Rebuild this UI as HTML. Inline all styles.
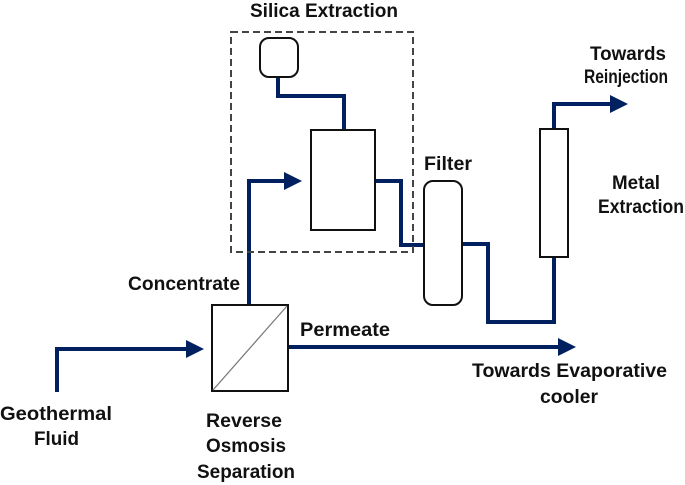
<!DOCTYPE html>
<html><head><meta charset="utf-8"><style>
html,body{margin:0;padding:0;background:#fff;}
svg{display:block;}
text{font-family:"Liberation Sans",sans-serif;font-weight:bold;font-size:19px;fill:#111;}
</style></head><body>
<svg width="685" height="485" viewBox="0 0 685 485" xmlns="http://www.w3.org/2000/svg">
<defs>
<marker id="a" markerWidth="4.5" markerHeight="4.5" refX="3.5" refY="2.25" orient="auto" markerUnits="strokeWidth">
<path d="M0,0 L4.5,2.25 L0,4.5 z" fill="#002060"/>
</marker>
</defs>
<g fill="none" stroke="#002060" stroke-width="4">
<polyline points="278,77 278,96 344,96 344,130"/>
<polyline points="249,305 249,181 298,181" marker-end="url(#a)"/>
<polyline points="375,181 401,181 401,245 424,245"/>
<polyline points="462,244 488,244 488,322 554,322 554,257"/>
<polyline points="554,129 554,104 624,104" marker-end="url(#a)"/>
<polyline points="57,392 57,349 200,349" marker-end="url(#a)"/>
<polyline points="288,347 572,347" marker-end="url(#a)"/>
</g>
<rect x="231" y="32" width="182" height="220" fill="none" stroke="#444" stroke-width="2" stroke-dasharray="7,4"/>
<g fill="#fff" stroke="#111" stroke-width="2">
<rect x="260" y="38" width="38" height="39" rx="9"/>
<rect x="311" y="130" width="64" height="100"/>
<rect x="424" y="181" width="38" height="124" rx="9"/>
<rect x="540" y="129" width="28" height="128"/>
<rect x="212" y="305" width="76" height="86"/>
</g>
<line x1="213" y1="390" x2="287" y2="306" stroke="#777" stroke-width="1.2"/>
<text x="250" y="17" textLength="148" lengthAdjust="spacingAndGlyphs">Silica Extraction</text>
<text x="590" y="60" textLength="76" lengthAdjust="spacingAndGlyphs">Towards</text>
<text x="584" y="83" textLength="84" lengthAdjust="spacingAndGlyphs">Reinjection</text>
<text x="424" y="170" textLength="48" lengthAdjust="spacingAndGlyphs">Filter</text>
<text x="612" y="189" textLength="48" lengthAdjust="spacingAndGlyphs">Metal</text>
<text x="598" y="213" textLength="86" lengthAdjust="spacingAndGlyphs">Extraction</text>
<text x="128" y="290" textLength="112" lengthAdjust="spacingAndGlyphs">Concentrate</text>
<text x="300" y="336" textLength="90" lengthAdjust="spacingAndGlyphs">Permeate</text>
<text x="472" y="377" textLength="195" lengthAdjust="spacingAndGlyphs">Towards Evaporative</text>
<text x="540" y="403" textLength="58" lengthAdjust="spacingAndGlyphs">cooler</text>
<text x="0" y="420" textLength="112" lengthAdjust="spacingAndGlyphs">Geothermal</text>
<text x="34" y="445" textLength="45" lengthAdjust="spacingAndGlyphs">Fluid</text>
<text x="206" y="427" textLength="76" lengthAdjust="spacingAndGlyphs">Reverse</text>
<text x="206" y="452" textLength="80" lengthAdjust="spacingAndGlyphs">Osmosis</text>
<text x="197" y="478" textLength="98" lengthAdjust="spacingAndGlyphs">Separation</text>
</svg>
</body></html>
